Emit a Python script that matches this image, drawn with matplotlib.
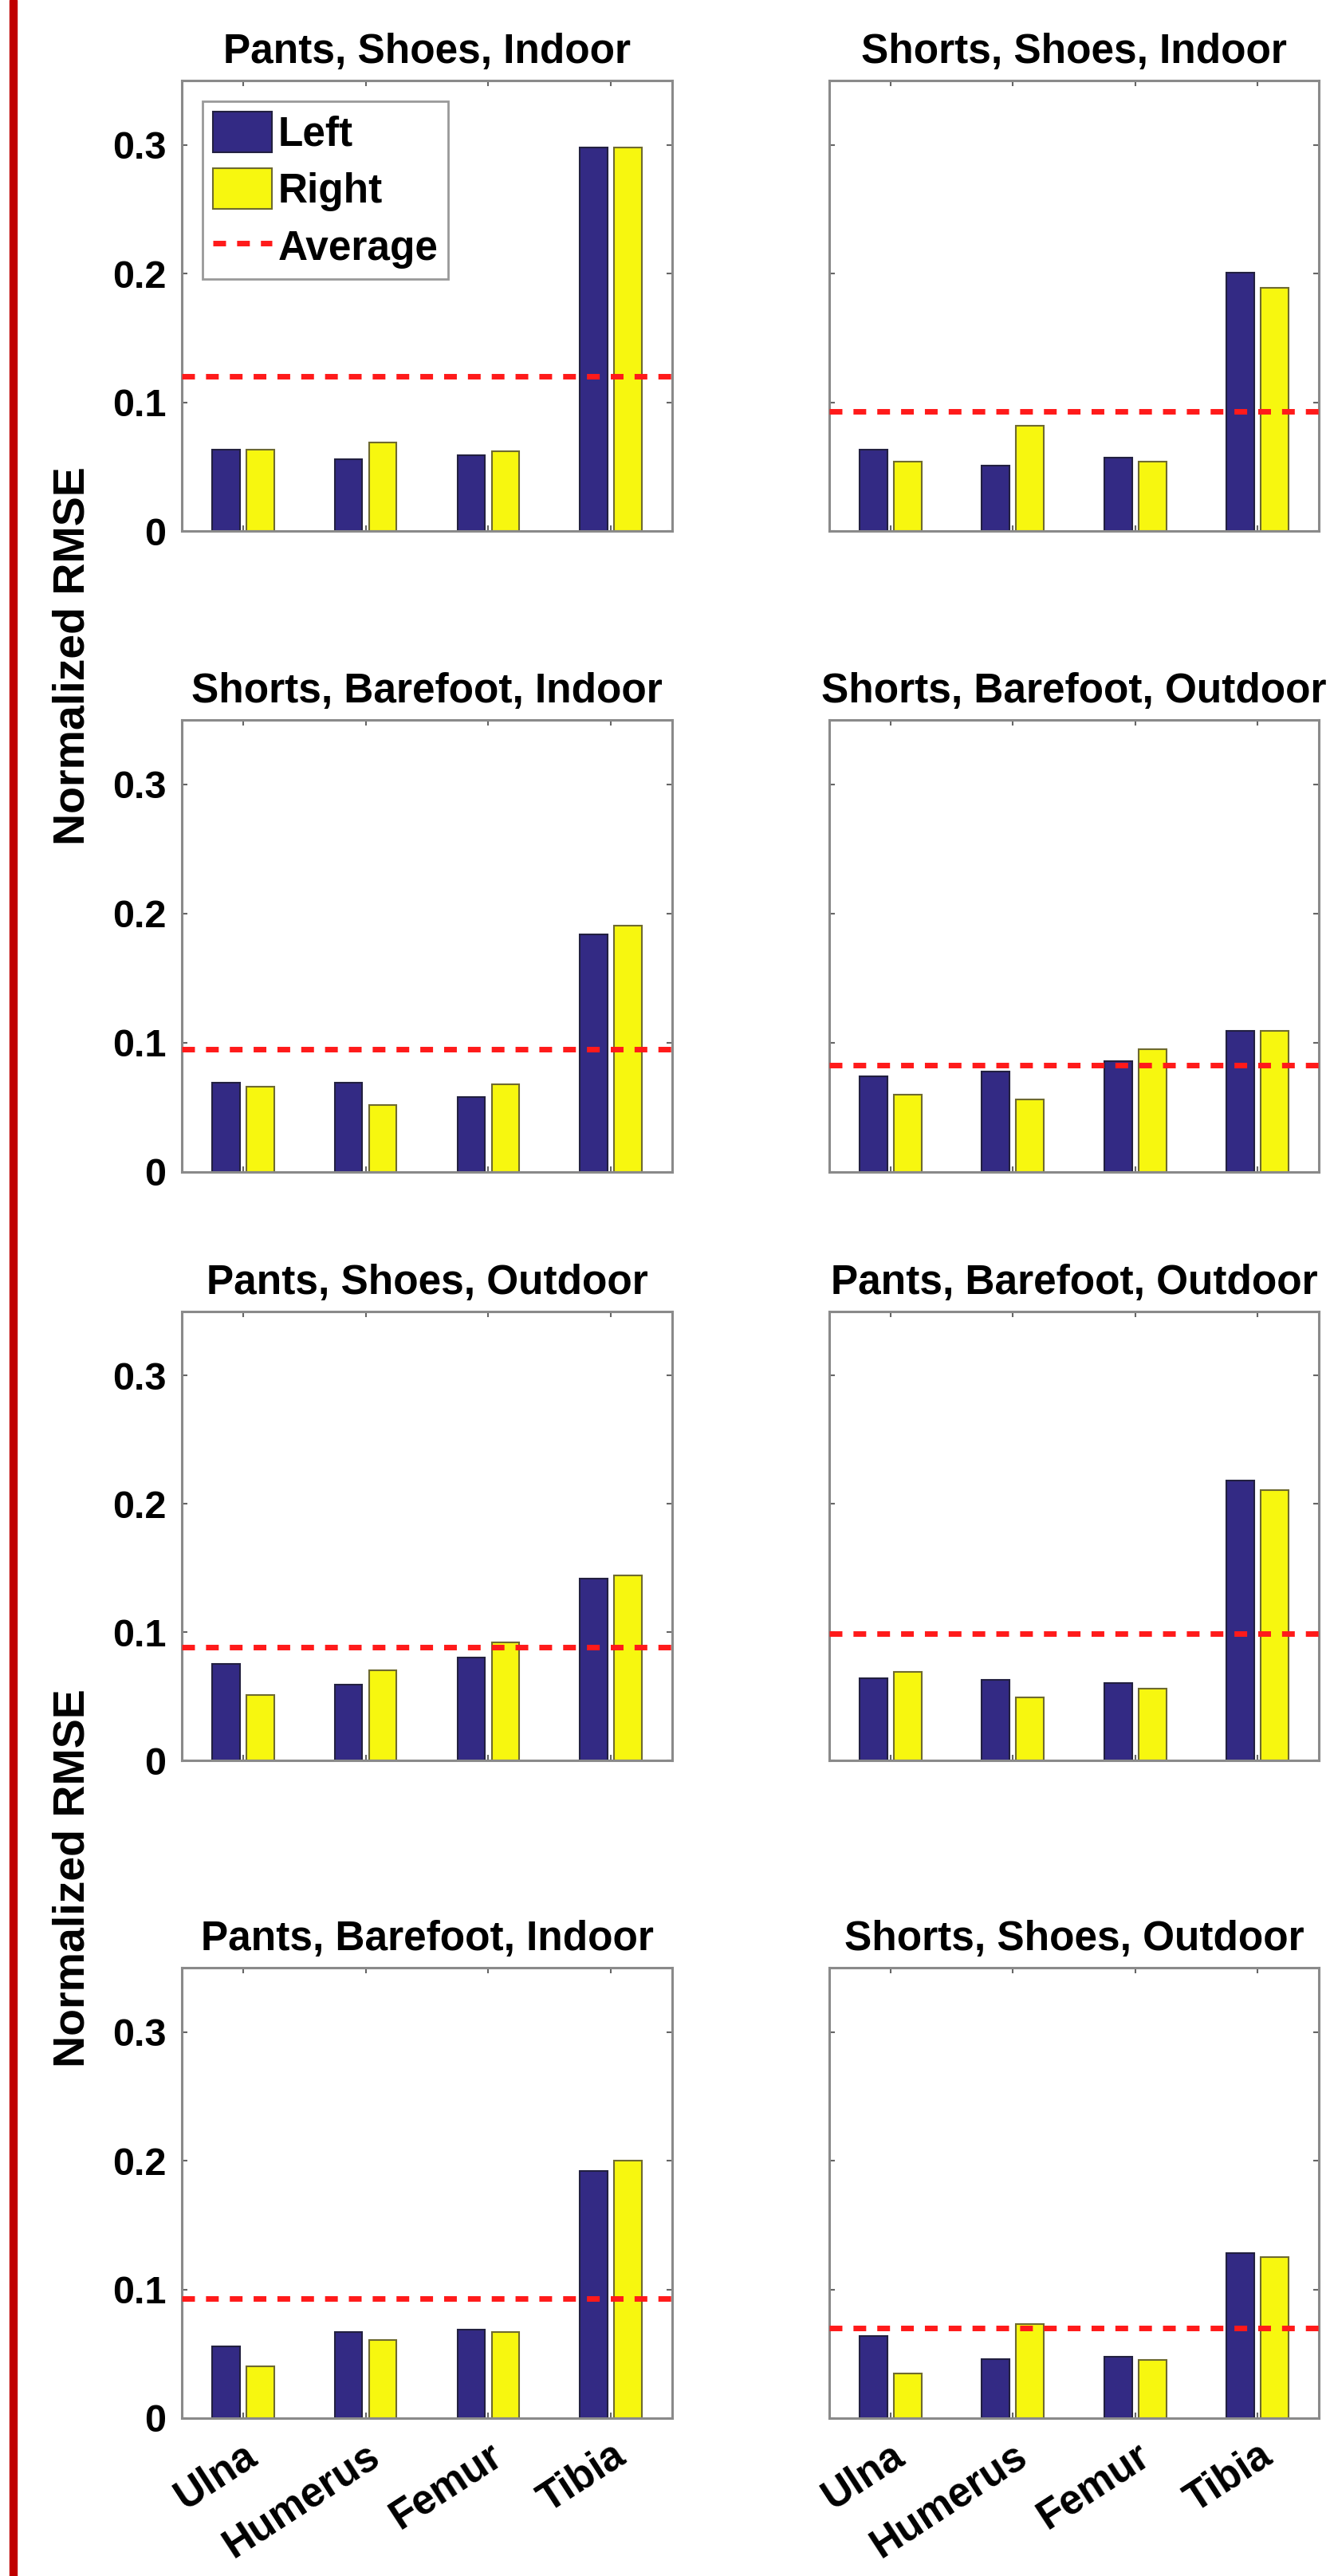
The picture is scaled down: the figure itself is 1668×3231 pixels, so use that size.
import numpy as np
import matplotlib
matplotlib.use("Agg")
import matplotlib.pyplot as plt
from matplotlib.patches import Rectangle

plt.rcParams['font.family'] = ['Liberation Sans', 'DejaVu Sans']
plt.rcParams['font.weight'] = 'bold'

bones = ["Ulna", "Humerus", "Femur", "Tibia"]
titles = ["Pants, Shoes, Indoor", "Shorts, Shoes, Indoor",
          "Shorts, Barefoot, Indoor", "Shorts, Barefoot, Outdoor",
          "Pants, Shoes, Outdoor", "Pants, Barefoot, Outdoor",
          "Pants, Barefoot, Indoor", "Shorts, Shoes, Outdoor"]

left_vals = [
    [0.063, 0.056, 0.059, 0.298],
    [0.063, 0.051, 0.057, 0.201],
    [0.069, 0.069, 0.058, 0.184],
    [0.074, 0.078, 0.086, 0.109],
    [0.075, 0.059, 0.080, 0.142],
    [0.064, 0.063, 0.060, 0.218],
    [0.056, 0.067, 0.069, 0.192],
    [0.064, 0.046, 0.048, 0.128],
]
right_vals = [
    [0.063, 0.069, 0.062, 0.298],
    [0.054, 0.082, 0.054, 0.189],
    [0.066, 0.052, 0.068, 0.191],
    [0.060, 0.056, 0.095, 0.109],
    [0.051, 0.070, 0.092, 0.144],
    [0.069, 0.049, 0.056, 0.211],
    [0.040, 0.061, 0.067, 0.200],
    [0.035, 0.073, 0.045, 0.125],
]
averages = [0.120, 0.093, 0.095, 0.083, 0.088, 0.099, 0.093, 0.070]

ytick_vals = [0, 0.1, 0.2, 0.3]
ytick_labels = ["0", "0.1", "0.2", "0.3"]

W, H = 1668, 3231
fig = plt.figure(figsize=(W / 100, H / 100), dpi=100)

# panel boxes in pixels
cols = [(228, 843), (1040, 1654)]
rows = [(101, 666), (903, 1470), (1645, 2208), (2468, 3033)]

navy = '#332a84'
yellow = '#f7f70f'
spine_c = '#8a8a8a'

x = np.arange(1, 5)
for i in range(8):
    r, c = divmod(i, 2)
    l, rr = cols[c]
    t, b = rows[r]
    ax = fig.add_axes([l / W, 1 - b / H, (rr - l) / W, (b - t) / H])
    b1 = ax.bar(x - 0.14, left_vals[i], 0.225, color=navy, edgecolor='#222040',
                linewidth=1.5, label='Left', zorder=2)
    b2 = ax.bar(x + 0.14, right_vals[i], 0.225, color=yellow, edgecolor='#6e6a30',
                linewidth=1.5, label='Right', zorder=2)
    avg = ax.axhline(averages[i], color='#ff1a1a', linewidth=5,
                     linestyle=(0, (2.3, 2.0)), label='Average', zorder=3)
    ax.set_xlim(0.5, 4.5)
    ax.set_ylim(0, 0.35)
    ax.set_yticks(ytick_vals)
    ax.set_xticks(x)
    for s in ax.spines.values():
        s.set_color(spine_c)
        s.set_linewidth(2.2)
    ax.tick_params(direction='in', length=5, width=1.5, color='#666666',
                   top=True, right=True, labelsize=35, pad=14)
    if c == 0:
        ax.set_yticklabels(ytick_labels)
    else:
        ax.set_yticklabels([])
    if r == 3:
        ax.set_xticklabels(bones, rotation=33, ha='right', va='top',
                           rotation_mode='anchor', fontsize=37)
        ax.tick_params(axis='x', pad=16)
    else:
        ax.set_xticklabels([])
    ax.set_title(titles[i], fontsize=37, fontweight='bold', pad=16)
    if i == 0:
        leg = ax.legend([b1, b2, avg], ['Left', 'Right', 'Average'],
                        loc='upper left', fontsize=37, handlelength=1.44,
                        handleheight=1.15, handletextpad=0.15,
                        labelspacing=0.35, borderpad=0.25,
                        borderaxespad=0.5, fancybox=False,
                        edgecolor='#999999', framealpha=1)
        leg.get_frame().set_linewidth(2)

fig.text(92 / W, 1 - 823 / H, "Normalized RMSE", rotation=90,
         ha='center', va='center', fontsize=40, fontweight='bold')
fig.text(92 / W, 1 - 2356 / H, "Normalized RMSE", rotation=90,
         ha='center', va='center', fontsize=40, fontweight='bold')

fig.add_artist(Rectangle((12 / W, 0), 9 / W, 1, transform=fig.transFigure,
                         color='#c00000'))

fig.savefig("out.png", dpi=100)
